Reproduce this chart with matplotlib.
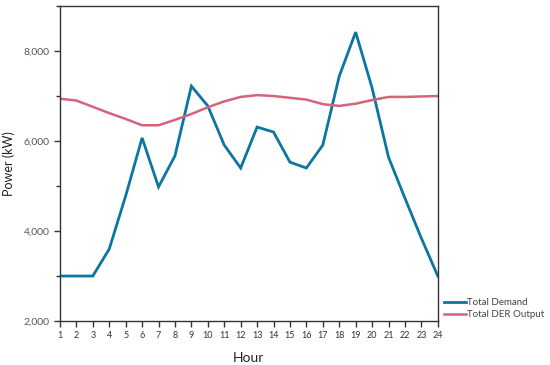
import matplotlib
matplotlib.use("Agg")
import matplotlib.pyplot as plt
from matplotlib.ticker import FuncFormatter, MultipleLocator

hours = list(range(1, 25))
total_demand = [3000, 3000, 3000, 3600, 4780, 6070, 4980, 5670, 7220, 6780, 5910, 5400,
                6310, 6200, 5530, 5400, 5910, 7440, 8420, 7180, 5640, 4730, 3840, 3000]
total_der = [6940, 6900, 6760, 6620, 6490, 6350, 6350, 6470, 6600, 6750, 6880, 6980,
             7020, 7000, 6960, 6920, 6820, 6780, 6830, 6910, 6980, 6980, 6990, 7000]
y_ticks = [2000, 4000, 6000, 8000]

plt.rcParams['font.family'] = ['Lato', 'DejaVu Sans']

fig = plt.figure(figsize=(5.5, 3.65), dpi=100)
ax = fig.add_axes([0.109, 0.1205, 0.687, 0.863])

blue = '#0b76a0'
red = '#d5647a'
ax.plot(hours, total_demand, color=blue, lw=2.0, label='Total Demand', solid_joinstyle='miter')
ax.plot(hours, total_der, color=red, lw=1.8, label='Total DER Output')

ax.set_xlim(1, 24)
ax.set_ylim(2000, 9000)
ax.set_xticks(hours)
ax.set_yticks(y_ticks)
ax.yaxis.set_minor_locator(MultipleLocator(1000))
ax.yaxis.set_major_formatter(FuncFormatter(lambda v, p: f"{int(v):,}"))

for s in ax.spines.values():
    s.set_color('#333333')
    s.set_linewidth(1.0)

ax.tick_params(axis='both', which='major', length=4, width=1, color='#333333',
               labelsize=7.5, labelcolor='#555555')
ax.tick_params(axis='x', labelsize=6.5, labelcolor='#333333', pad=3)
ax.tick_params(axis='y', which='minor', length=3, width=1, color='#333333')

ax.set_xlabel('Hour', fontsize=10, color='#222222', labelpad=9)
ax.set_ylabel('Power (kW)', fontsize=9, color='#222222', labelpad=6)

leg = fig.legend(loc='lower left', bbox_to_anchor=(0.80, 0.115), frameon=False,
                 fontsize=7, handlelength=2.3, handletextpad=0.1, labelspacing=0.3,
                 borderaxespad=0)
for t in leg.get_texts():
    t.set_color('#444444')

fig.savefig('out.png', dpi=100)
